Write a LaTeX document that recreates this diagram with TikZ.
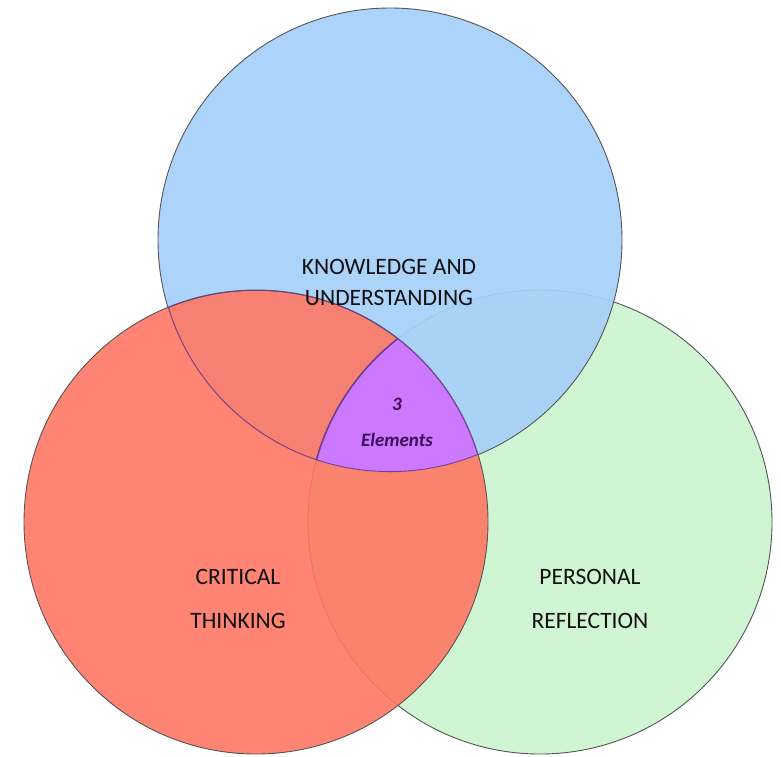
\documentclass[tikz,border=0pt]{standalone}
\usepackage{fontspec}
\setmainfont{Carlito}
\definecolor{bluec}{HTML}{A6D0FA}
\definecolor{greenc}{HTML}{D0F5D2}
\definecolor{redc}{HTML}{FF7764}
\definecolor{purplec}{HTML}{CC78FF}
\definecolor{purpleline}{HTML}{6E3D8C}
\definecolor{edgec}{HTML}{555555}
\definecolor{labelc}{HTML}{101010}
\definecolor{centerc}{HTML}{3A0F55}
\tikzset{
  circ/.style={draw=edgec, line width=0.9pt},
  lbl/.style={text=labelc, font=\fontsize{23.5}{27}\selectfont, inner sep=0pt},
  mid/.style={text=centerc, font=\fontsize{19}{22}\selectfont\bfseries\itshape, inner sep=0pt}
}
\begin{document}
\begin{tikzpicture}[x=1pt,y=-1pt]
\useasboundingbox (0,0) rectangle (781,756);
\fill[white] (0,0) rectangle (781,756);
\coordinate (cb) at (390,240);
\coordinate (cr) at (256,522);
\coordinate (cg) at (540,522);
% green circle (back)
\draw[circ, fill=greenc] (cg) circle[radius=232];
% blue circle
\draw[circ, fill=bluec, fill opacity=0.92] (cb) circle[radius=232];
% red circle (front, slightly transparent)
\draw[circ, fill=redc, fill opacity=0.9] (cr) circle[radius=232];
% centre region
\begin{scope}
  \clip (cb) circle[radius=232];
  \clip (cr) circle[radius=232];
  \fill[purplec] (cg) circle[radius=232];
  \draw[purpleline, line width=1.6pt] (cg) circle[radius=232];
  \draw[purpleline, line width=1.6pt] (cb) circle[radius=232];
  \draw[purpleline, line width=1.6pt] (cr) circle[radius=232];
\end{scope}
% labels
\node[lbl] (k1) at (389,267) {KNOWLEDGE AND};
\node[lbl] (k2) at (389,298) {UNDERSTANDING};
\node[lbl] (c1) at (238,577) {CRITICAL};
\node[lbl] (c2) at (238,621) {THINKING};
\node[lbl] (p1) at (590,577) {PERSONAL};
\node[lbl] (p2) at (590,621) {REFLECTION};
\node[mid] (m1) at (397,404) {3};
\node[mid] (m2) at (397,440) {Elements};
\end{tikzpicture}
\end{document}
